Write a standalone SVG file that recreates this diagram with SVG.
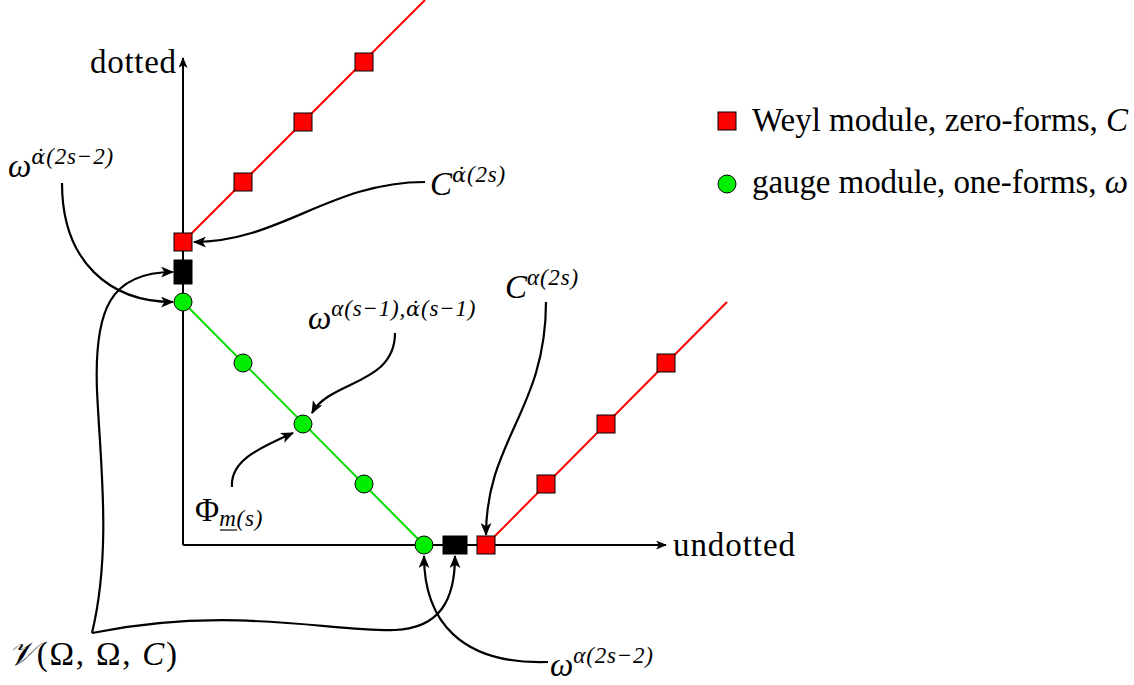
<svg xmlns="http://www.w3.org/2000/svg" width="1134" height="685" viewBox="0 0 1134 685">
<style>
.t{font-family:"Liberation Serif",serif;font-size:33px;fill:#000}
.m{font-family:"Liberation Serif",serif;font-style:italic;font-size:33px;fill:#000}
.s{font-size:23px;letter-spacing:0.8px}
.n{font-style:normal}
.d{font-family:"DejaVu Serif",serif;font-size:21px}
.r{fill:#ff0000;stroke:#000;stroke-width:1}
.g{fill:#00ee00;stroke:#000;stroke-width:1}
.b{fill:#000;stroke:#000;stroke-width:1}
.ax{stroke:#000;stroke-width:2;fill:none}
.rl{stroke:#ff0000;stroke-width:2;fill:none}
.gl{stroke:#00dd00;stroke-width:2;fill:none}
.c{stroke:#000;stroke-width:2.2;fill:none;marker-end:url(#arr)}
</style>
<defs>
<marker id="arr" viewBox="0 0 12 10" refX="11" refY="5" markerWidth="13" markerHeight="11" markerUnits="userSpaceOnUse" orient="auto"><path d="M0,0 L12,5 L0,10 L3,5 z" fill="#000"/></marker>
<marker id="axarr" viewBox="0 0 12 10" refX="11" refY="5" markerWidth="12" markerHeight="9" markerUnits="userSpaceOnUse" orient="auto"><path d="M0,0 L12,5 L0,10 L3,5 z" fill="#000"/></marker>
</defs>
<rect width="1134" height="685" fill="#fff"/>
<g id="axes">
<line class="ax" x1="183" y1="545" x2="183" y2="58" marker-end="url(#axarr)"/>
<line class="ax" x1="183" y1="545" x2="666" y2="545" marker-end="url(#axarr)"/>
<line class="rl" x1="183" y1="242" x2="425" y2="0"/>
<line class="gl" x1="183" y1="302" x2="424" y2="545"/>
<line class="rl" x1="486" y1="545" x2="727" y2="302"/>
</g>
<g id="connectors">
<path class="c" d="M62 183 C62 262 110 302 173 302"/>
<path class="c" d="M425 182 C330 182 280 242 194 242"/>
<path class="c" d="M395 333 C395 385 330 380 312 413"/>
<path class="c" d="M232 487 C230 460 260 448 293 433"/>
<path class="c" d="M546 302 C546 410 486 440 486 535"/>
<path class="c" d="M548 662 C460 665 424 620 424 556"/>
<path class="c" d="M92 633 C112 550 100 460 97 390 C94 310 110 272 173 272"/>
<path class="c" d="M92 633 C230 605 330 632 395 630 C440 628 455 600 455 556"/>
</g>
<g id="weyl-top">
<rect id="w0" class="r" x="174" y="233" width="18" height="18"/>
<rect id="w1" class="r" x="234" y="173" width="18" height="18"/>
<rect id="w2" class="r" x="294" y="113" width="18" height="18"/>
<rect id="w3" class="r" x="355" y="53" width="18" height="18"/>
</g>
<g id="weyl-bottom">
<rect id="w4" class="r" x="477" y="536" width="18" height="18"/>
<rect id="w5" class="r" x="537" y="475" width="18" height="18"/>
<rect id="w6" class="r" x="597" y="415" width="18" height="18"/>
<rect id="w7" class="r" x="657" y="354" width="18" height="18"/>
</g>
<g id="gauge">
<circle id="g0" class="g" cx="183" cy="302" r="9"/>
<circle id="g1" class="g" cx="243" cy="363" r="9"/>
<circle id="g2" class="g" cx="303" cy="424" r="9"/>
<circle id="g3" class="g" cx="364" cy="484" r="9"/>
<circle id="g4" class="g" cx="424" cy="545" r="9"/>
</g>
<g id="vertex-top"><rect class="b" x="174" y="260" width="18" height="24"/></g>
<g id="vertex-bottom"><rect class="b" x="443" y="536" width="24" height="18"/></g>
<g id="legend">
<rect class="r" x="718" y="112" width="18" height="18"/>
<text class="t" x="752" y="131" textLength="376" lengthAdjust="spacing">Weyl module, zero-forms, <tspan font-style="italic">C</tspan></text>
<circle class="g" cx="727" cy="184" r="9"/>
<text class="t" x="752" y="193" textLength="376" lengthAdjust="spacing">gauge module, one-forms, <tspan font-style="italic">ω</tspan></text>
</g>
<g id="axis-labels">
<text class="t" x="90" y="73" textLength="86" lengthAdjust="spacing">dotted</text>
<text class="t" x="673" y="556" textLength="122" lengthAdjust="spacing">undotted</text>
</g>
<g id="label-omega-dot"><text class="m" x="8" y="177">ω<tspan class="s" dy="-13"><tspan class="d">α̇</tspan>(2s−2)</tspan></text></g>
<g id="label-C-dot"><text class="m" x="430" y="195">C<tspan class="s" dy="-13"><tspan class="d">α̇</tspan>(2s)</tspan></text></g>
<g id="label-omega-mixed"><text class="m" x="308" y="329">ω<tspan class="s" dy="-13">α(s−1),<tspan class="d">α̇</tspan>(s−1)</tspan></text></g>
<g id="label-phi"><text class="m" x="195" y="521"><tspan class="n">Φ</tspan><tspan class="s" dy="5">m(s)</tspan></text><line x1="220" y1="530" x2="237" y2="530" stroke="#000" stroke-width="1.2"/></g>
<g id="label-C"><text class="m" x="505" y="298">C<tspan class="s" dy="-13">α(2s)</tspan></text></g>
<g id="label-omega"><text class="m" x="550" y="676">ω<tspan class="s" dy="-13">α(2s−2)</tspan></text></g>
<g id="label-V"><text class="m" x="8" y="665" font-size="40" textLength="169" lengthAdjust="spacing">𝒱<tspan class="n">(Ω, Ω, </tspan>C<tspan class="n">)</tspan></text></g>
</svg>
